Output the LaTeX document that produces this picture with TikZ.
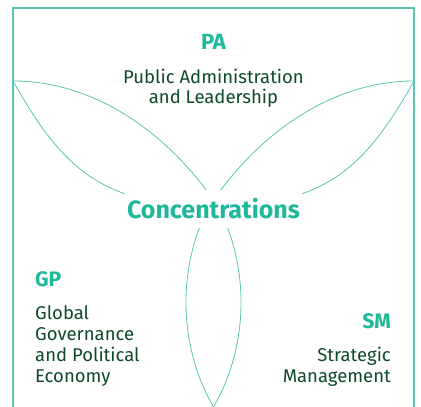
\documentclass[tikz,border=0pt]{standalone}
\usepackage{fontspec}
\setmainfont{Fira Sans}
\definecolor{lineteal}{HTML}{5CC6B2}
\definecolor{headteal}{HTML}{1EB99B}
\definecolor{darkgreen}{HTML}{0D4A2C}
\begin{document}
\begin{tikzpicture}[x=1pt,y=-1pt,
  frameline/.style={draw=lineteal, line width=1.1pt},
  petal/.style={draw=lineteal, line width=0.8pt},
  headtext/.style={text=headteal, inner sep=0pt, font=\fontsize{21}{24}\selectfont\bfseries},
  bodytext/.style={text=darkgreen, inner sep=0pt, font=\fontsize{18.5}{21}\selectfont},
  centertext/.style={text=headteal, fill=white, inner sep=0pt, text height=28pt, text depth=10pt,
    minimum width=177pt, font=\fontsize{25}{28}\selectfont\bfseries}]
\useasboundingbox (0,0) rectangle (421,407);
\coordinate (fbl) at (13,407);
\coordinate (ftl) at (13,8);
\coordinate (ftr) at (414,8);
\coordinate (fbr) at (414,407);
\draw[frameline] (fbl) -- (ftl) -- (ftr) -- (fbr);
\coordinate (L) at (13,81);
\coordinate (R) at (414,81);
\coordinate (C) at (213.5,200);
\coordinate (Cl) at (213.5,206);
\coordinate (Cb) at (213.5,198);
\coordinate (B) at (213.5,407);
% left petal
\draw[petal] (L) .. controls (95,81) and (166.5,132.8) .. (C);
\draw[petal] (L) .. controls (63,170) and (103.5,206) .. (Cl);
% right petal
\draw[petal] (R) .. controls (332,81) and (260.5,132.8) .. (C);
\draw[petal] (R) .. controls (364,170) and (323.5,206) .. (Cl);
% bottom petal
\draw[petal] (Cb) .. controls (250.2,261.5) and (250.2,343.5) .. (B);
\draw[petal] (Cb) .. controls (176.8,261.5) and (176.8,343.5) .. (B);
% texts
\node[centertext, anchor=base] (conc) at (213.5,218) {Concentrations};
\node[headtext, anchor=base, font=\fontsize{22}{24}\selectfont\bfseries] (pa) at (213.5,49) {PA};
\node[bodytext, anchor=base] (pa1) at (213.5,83.3) {Public Administration};
\node[bodytext, anchor=base] (pa2) at (213.5,103) {and Leadership};
\node[headtext, anchor=base west] (gp) at (35,286) {GP};
\node[bodytext, anchor=base west] (gp1) at (35,319.5) {Global};
\node[bodytext, anchor=base west] (gp2) at (35,340.5) {Governance};
\node[bodytext, anchor=base west] (gp3) at (35,361.5) {and Political};
\node[bodytext, anchor=base west] (gp4) at (35,382) {Economy};
\node[headtext, anchor=base east] (sm) at (391,328) {SM};
\node[bodytext, anchor=base east] (sm1) at (391,361.5) {Strategic};
\node[bodytext, anchor=base east] (sm2) at (391,382) {Management};
\end{tikzpicture}
\end{document}
